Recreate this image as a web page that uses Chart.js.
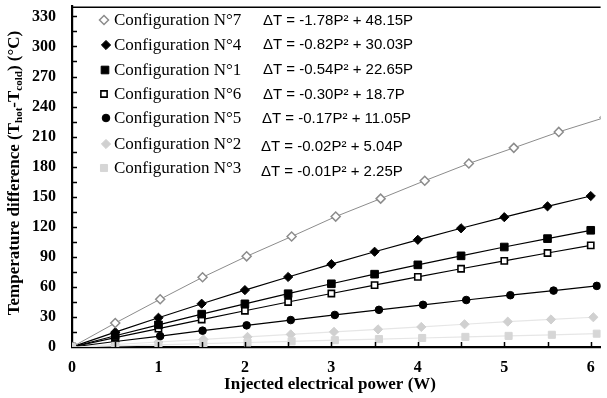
<!DOCTYPE html>
<html><head><meta charset="utf-8">
<script src="https://cdn.jsdelivr.net/npm/chart.js@4/dist/chart.umd.min.js"></script>
<style>html,body{margin:0;padding:0;background:#fff;overflow:hidden}#wrap{width:607px;height:398px}</style>
</head><body><div id="wrap"><canvas id="c" width="607" height="398"></canvas></div>
<script>
// ---- data ----
const seriesNames = ["Configuration N°7","Configuration N°4","Configuration N°1","Configuration N°6","Configuration N°5","Configuration N°2","Configuration N°3"];
const equations = ["ΔT = -1.78P² + 48.15P","ΔT = -0.82P² + 30.03P","ΔT = -0.54P² + 22.65P","ΔT = -0.30P² + 18.7P","ΔT = -0.17P² + 11.05P","ΔT = -0.02P² + 5.04P","ΔT = -0.01P² + 2.25P"];
const nominalPower = [0,0.5,1,1.5,2,2.5,3,3.5,4,4.5,5,5.5,6];
const power7 = [0,0.50,1.02,1.51,2.02,2.54,3.05,3.57,4.08,4.59,5.11,5.63,6.16];
const dT7 = [0,23.9,47.7,69.6,90.5,110.3,130.2,148.1,166.0,183.2,198.8,214.7,229.0];
const dT4 = [0,14.8,29.2,43.2,56.8,69.9,82.7,95.1,107.0,118.5,129.6,140.4,150.7];
const dT1 = [0,11.2,22.1,32.8,43.1,53.2,63.1,72.7,82.0,91.0,99.8,108.2,116.5];
const dT6 = [0,9.3,18.4,27.4,36.2,44.9,53.4,61.8,70.0,78.1,86.0,93.8,101.4];
const power5 = [0,0.5,1.02,1.51,2.02,2.53,3.04,3.55,4.06,4.56,5.07,5.57,6.07];
const dT5 = [0,5.5,10.9,16.3,21.6,26.9,32.0,37.1,42.1,46.9,51.7,56.3,61.0];
const power2 = [0,0.5,1.0,1.52,2.03,2.53,3.03,3.54,4.04,4.54,5.04,5.54,6.03];
const dT2 = [0,2.5,5.0,7.6,10.1,12.6,15.1,17.6,20.0,22.7,25.3,27.5,29.7];
const power3 = [0,0.5,1.0,1.52,2.03,2.54,3.04,3.55,4.05,4.55,5.05,5.55,6.07];
const dT3 = [0,1.1,2.2,3.4,4.5,5.7,6.8,7.9,9.0,10.1,11.1,12.2,13.3];
const xTickLabels = [0,1,2,3,4,5,6];
const yTickLabels = [0,30,60,90,120,150,180,210,240,270,300,330];
const xMinorTicks = [0.5,1,1.5,2,2.5,3,3.5,4,4.5,5,5.5,6];
const yMinorTicks = [15,30,45,60,75,90,105,120,135,150,165,180,195,210,225,240,255,270,285,300,315,330];

const pts = (xs, ys) => xs.map((x,i)=>({x:x, y:ys[i]}));

const styles = [
  {pointStyle:'rectRot', radius:4.5, bg:'#ffffff', bc:'#8c8c8c', bw:1.5, line:'#8c8c8c', lw:1},
  {pointStyle:'rectRot', radius:4.6, bg:'#000000', bc:'#000000', bw:1, line:'#000000', lw:1.2},
  {pointStyle:'rect', radius:5.4, bg:'#000000', bc:'#000000', bw:1, line:'#000000', lw:1.2},
  {pointStyle:'rect', radius:4.4, bg:'#ffffff', bc:'#000000', bw:1.6, line:'#000000', lw:1.2},
  {pointStyle:'circle', radius:3.8, bg:'#000000', bc:'#000000', bw:1, line:'#000000', lw:1.2},
  {pointStyle:'rectRot', radius:4.6, bg:'#d0d0d0', bc:'#d0d0d0', bw:1, line:'#e6e6e6', lw:1.2},
  {pointStyle:'rect', radius:5, bg:'#d6d6d6', bc:'#d6d6d6', bw:1, line:'#e6e6e6', lw:1.2}
];
const seriesData = [pts(power7,dT7), pts(nominalPower,dT4), pts(nominalPower,dT1), pts(nominalPower,dT6), pts(power5,dT5), pts(power2,dT2), pts(power3,dT3)];

const datasets = seriesData.map((d,i)=>({
  label: seriesNames[i], data: d, showLine:true, tension:0,
  borderColor: styles[i].line, borderWidth: styles[i].lw,
  pointStyle: styles[i].pointStyle, pointRadius: styles[i].radius,
  pointBackgroundColor: styles[i].bg, pointBorderColor: styles[i].bc, pointBorderWidth: styles[i].bw,
  order: i===6 ? 0 : 1
}));

function drawMarker(ctx, s, x, y){
  ctx.save();
  ctx.fillStyle = s.bg; ctx.strokeStyle = s.bc; ctx.lineWidth = s.bw;
  ctx.beginPath();
  const r = s.radius;
  if (s.pointStyle==='rectRot'){ ctx.moveTo(x, y-r); ctx.lineTo(x+r, y); ctx.lineTo(x, y+r); ctx.lineTo(x-r, y); ctx.closePath(); }
  else if (s.pointStyle==='rect'){ const h=r*Math.SQRT1_2; ctx.rect(x-h, y-h, 2*h, 2*h); }
  else { ctx.arc(x, y, r, 0, Math.PI*2); }
  ctx.fill(); ctx.stroke();
  ctx.restore();
}

const decor = {
  id:'decor',
  afterDatasetsDraw(chart){
    const ctx = chart.ctx, a = chart.chartArea, xs = chart.scales.x, ys = chart.scales.y;
    ctx.save();
    ctx.strokeStyle = '#000';
    // top border
    ctx.lineWidth = 1.6;
    ctx.beginPath(); ctx.moveTo(a.left, a.top+0.8); ctx.lineTo(a.right, a.top+0.8); ctx.stroke();
    // inside ticks
    ctx.lineWidth = 1.5;
    ctx.beginPath();
    yMinorTicks.forEach(v=>{ const py = Math.round(ys.getPixelForValue(v))+0.5; ctx.moveTo(a.left, py); ctx.lineTo(a.left+5, py); });
    xMinorTicks.forEach(v=>{ const px = Math.round(xs.getPixelForValue(v))+0.5; ctx.moveTo(px, a.bottom); ctx.lineTo(px, a.bottom-5); });
    ctx.stroke();
    ctx.restore();
  },
  afterDraw(chart){
    const ctx = chart.ctx, a = chart.chartArea;
    ctx.save();
    // legend
    const rowsName = [20,45,70,94,118,144,168];
    const rowsEq = [20,44,69,94,118,146,171];
    const eqX = [263,263,263,263,262,261,261];
    const mX = [104,106,105,104,106,106,104];
    ctx.textBaseline = 'middle'; ctx.textAlign = 'left';
    for (let i=0;i<seriesNames.length;i++){
      const s = Object.assign({}, styles[i]);
      drawMarker(ctx, s, mX[i], rowsName[i]);
      ctx.fillStyle = '#000';
      ctx.font = '17px "Liberation Serif", "Times New Roman", serif';
      ctx.fillText(seriesNames[i], 114, rowsName[i]+1);
      ctx.font = '15px "Liberation Sans", Arial, sans-serif';
      ctx.fillText(equations[i], eqX[i], rowsEq[i]+1);
    }
    // x title
    ctx.font = 'bold 17px "Liberation Serif", "Times New Roman", serif';
    ctx.textAlign = 'center'; ctx.textBaseline = 'middle';
    ctx.fillText('Injected electrical power (W)', 330, 385);
    // y title with subscripts
    const big = 'bold 17px "Liberation Serif", "Times New Roman", serif';
    const small = 'bold 11px "Liberation Serif", "Times New Roman", serif';
    const parts = [['Temperature difference (T',big,0],['hot',small,4],['-T',big,0],['cold',small,4],[') (°C)',big,0]];
    let total = 0;
    parts.forEach(p=>{ ctx.font = p[1]; total += ctx.measureText(p[0]).width; });
    ctx.translate(15, 173);
    ctx.rotate(-Math.PI/2);
    ctx.textAlign = 'left'; ctx.textBaseline = 'middle';
    let cx = -total/2;
    parts.forEach(p=>{ ctx.font = p[1]; ctx.fillText(p[0], cx, p[2]); cx += ctx.measureText(p[0]).width; });
    ctx.restore();
  }
};

new Chart(document.getElementById('c'), {
  type:'scatter',
  data:{datasets},
  options:{
    responsive:false, animation:false, devicePixelRatio:1,
    layout:{padding:{top:5,left:0,right:0,bottom:0}},
    plugins:{legend:{display:false}, tooltip:{enabled:false}},
    scales:{
      x:{type:'linear', min:0, max:6.114,
        afterBuildTicks(s){ s.ticks = xTickLabels.map(v=>({value:v})); },
        afterFit(s){ s.height = 51; s.paddingLeft=0; s.paddingRight=0; },
        grid:{display:false, drawTicks:false},
        border:{display:true, color:'#000', width:2.2},
        ticks:{color:'#000', padding:11, font:{family:'"Liberation Serif", "Times New Roman", serif', size:16, weight:'bold'}, maxRotation:0}
      },
      y:{type:'linear', min:0, max:340,
        afterBuildTicks(s){ s.ticks = yTickLabels.map(v=>({value:v})); },
        afterFit(s){ s.width = 72; s.paddingTop=0; s.paddingBottom=0; },
        grid:{display:false, drawTicks:false},
        border:{display:true, color:'#000', width:2.2},
        ticks:{color:'#000', padding:16, font:{family:'"Liberation Serif", "Times New Roman", serif', size:16, weight:'bold'}}
      }
    }
  },
  plugins:[decor]
});
</script>
</body></html>
